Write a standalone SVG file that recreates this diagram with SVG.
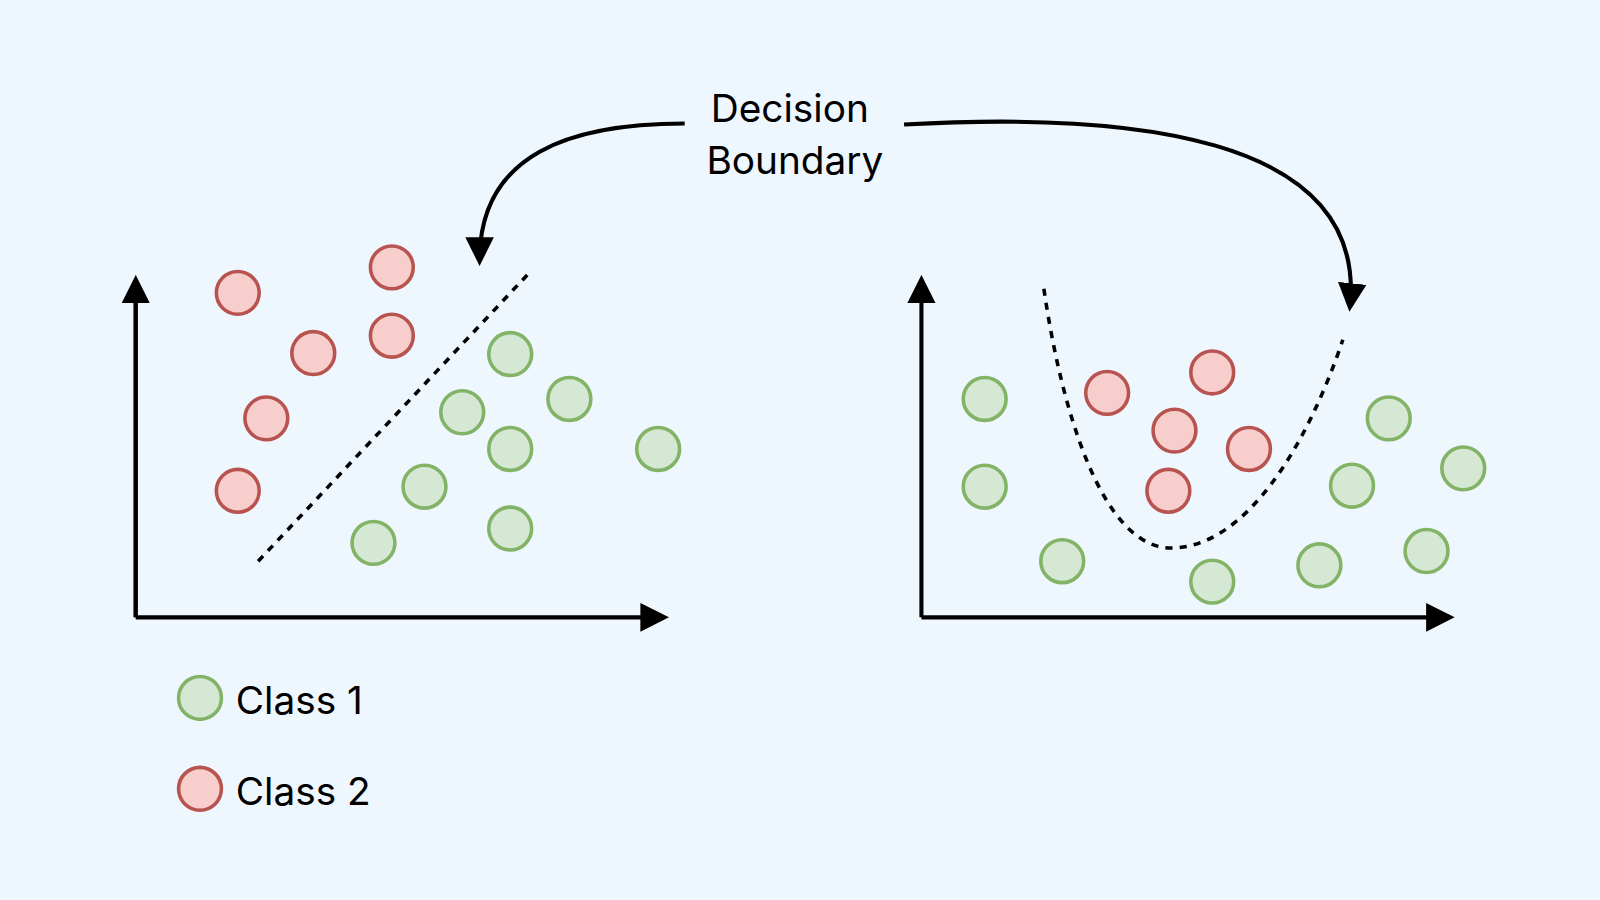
<svg xmlns="http://www.w3.org/2000/svg" width="1600" height="900" viewBox="0 0 1600 900">
<defs>
<style>
.g{fill:#d5e8d4;stroke:#82b366;stroke-width:3.5}
.r{fill:#f8cecc;stroke:#b85450;stroke-width:3.5}
.ax{fill:none;stroke:#000;stroke-width:4}
.d{fill:none;stroke:#000;stroke-width:3.5;stroke-dasharray:7 7}
.t{font-family:Inter,"Liberation Sans",sans-serif;font-size:38px;fill:#000}
</style>
<marker id="ah" markerWidth="10" markerHeight="10" refX="7" refY="5" orient="auto" markerUnits="userSpaceOnUse" viewBox="0 0 10 10"><path d="M0,0L10,5L0,10z"/></marker>
<marker id="ah2" viewBox="0 0 10 10" refX="8" refY="5" markerWidth="28" markerHeight="28" orient="auto" markerUnits="userSpaceOnUse"><path d="M0,0L10,5L0,10z"/></marker>
</defs>
<rect width="1600" height="900" fill="#eef6fe"/>
<g transform="scale(1.0204)">
<g id="connectors">
<path class="ax" d="M133,605V275 M133,605H650" marker-end="url(#ah2)"/>
<path class="ax" d="M133,605V275" marker-end="url(#ah2)"/>
<path class="ax" d="M903,605V275" marker-end="url(#ah2)"/>
<path class="ax" d="M903,605H1420" marker-end="url(#ah2)"/>
<path class="d" d="M253,550L519,267"/>
<path class="d" d="M1023,283C1040,400 1080,540 1150,537C1220,535 1280,440 1316,333"/>
<path class="ax" d="M671,121C560,121 470,150 470,255" marker-end="url(#ah2)"/>
<path class="ax" d="M886,122C1100,110 1340,130 1323,300" marker-end="url(#ah2)"/>
</g>
<g id="left-points">
<circle class="r" cx="233" cy="287" r="21"/><circle class="r" cx="384" cy="262" r="21"/>
<circle class="r" cx="307" cy="346" r="21"/><circle class="r" cx="384" cy="329" r="21"/>
<circle class="r" cx="261" cy="410" r="21"/><circle class="r" cx="233" cy="481" r="21"/>
<circle class="g" cx="500" cy="347" r="21"/><circle class="g" cx="558" cy="391" r="21"/>
<circle class="g" cx="453" cy="404" r="21"/><circle class="g" cx="500" cy="440" r="21"/>
<circle class="g" cx="645" cy="440" r="21"/><circle class="g" cx="416" cy="477" r="21"/>
<circle class="g" cx="366" cy="532" r="21"/><circle class="g" cx="500" cy="518" r="21"/>
</g>
<g id="right-points">
<circle class="g" cx="965" cy="391" r="21"/><circle class="g" cx="965" cy="477" r="21"/>
<circle class="g" cx="1041" cy="550" r="21"/><circle class="g" cx="1188" cy="570" r="21"/>
<circle class="g" cx="1293" cy="554" r="21"/><circle class="g" cx="1398" cy="540" r="21"/>
<circle class="g" cx="1325" cy="476" r="21"/><circle class="g" cx="1361" cy="410" r="21"/>
<circle class="g" cx="1434" cy="459" r="21"/>
<circle class="r" cx="1085" cy="385" r="21"/><circle class="r" cx="1188" cy="365" r="21"/>
<circle class="r" cx="1151" cy="422" r="21"/><circle class="r" cx="1224" cy="440" r="21"/>
<circle class="r" cx="1145" cy="481" r="21"/>
</g>
<g id="label">
<text class="t" x="774" y="120" text-anchor="middle">Decision</text>
<text class="t" x="779" y="171" text-anchor="middle">Boundary</text>
</g>
<g id="legend">
<circle class="g" cx="196" cy="684" r="21"/><text class="t" x="231" y="700">Class 1</text>
<circle class="r" cx="196" cy="773" r="21"/><text class="t" x="231" y="789">Class 2</text>
</g>
</g>
</svg>
